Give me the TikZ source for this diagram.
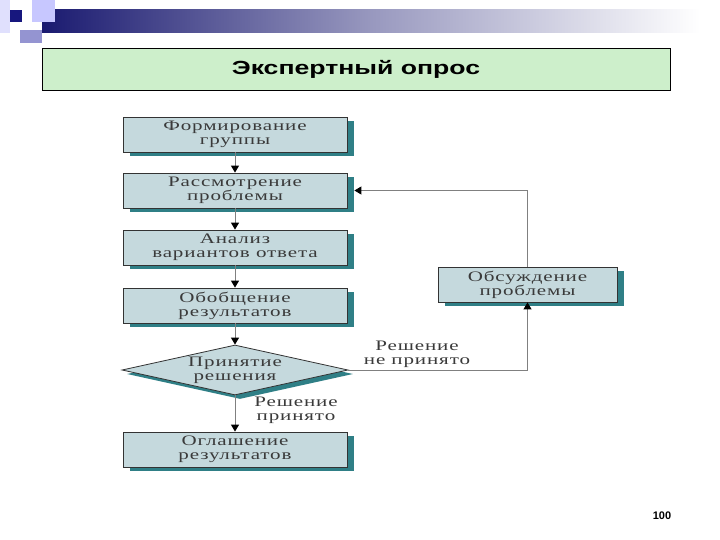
\documentclass[tikz,border=0pt]{standalone}
\usepackage{fontspec}
\setmainfont{Liberation Serif}
\newfontfamily\boxfont{Liberation Serif}[FakeStretch=1.45,LetterSpace=6]
\newfontfamily\titlefont{Liberation Sans}[FakeStretch=1.4]
\newfontfamily\numfont{Liberation Sans}
\usetikzlibrary{shapes.geometric,arrows.meta,calc,shadows}
\definecolor{boxfill}{HTML}{C5D9DD}
\definecolor{shadowc}{HTML}{2F7F86}
\definecolor{txtc}{HTML}{3A3A3A}
\definecolor{linec}{HTML}{808080}
\definecolor{titlefill}{HTML}{CDEFCB}
\definecolor{navy}{HTML}{1A1A70}
\tikzset{
  stepbox/.style={rectangle, minimum width=224pt, minimum height=35pt, inner sep=0pt,
    fill=boxfill, draw=black!80, line width=0.8pt, align=center, text=txtc,
    font=\boxfont\fontsize{14.5}{14}\selectfont,
    drop shadow={shadow xshift=7pt, shadow yshift=-4pt, fill=shadowc, opacity=1}},
  decide/.style={diamond, minimum width=226pt, minimum height=50pt, inner sep=0pt,
    fill=boxfill, draw=black!80, line width=0.8pt,
    drop shadow={shadow xshift=5pt, shadow yshift=-4pt, fill=shadowc, opacity=1}},
  btext/.style={align=center, text=txtc, font=\boxfont\fontsize{14.5}{14}\selectfont, inner sep=0pt},
  arr/.style={draw=linec, line width=1pt, -{Triangle[width=8pt,length=7pt,color=black]}}
}
\begin{document}
\begin{tikzpicture}[x=1pt,y=-1pt]
\useasboundingbox (0,0) rectangle (720,540);
\fill[white] (0,0) rectangle (720,540);
% decoration
\fill[black!6!blue!12] (0,0) rectangle (10,33);
\shade[left color=navy, right color=white, middle color=navy!45!white] (42,10) rectangle (700,33);
\fill[blue!22!white] (32,0) rectangle (55,22);
\fill[blue!40!gray!60] (20,30) rectangle (42,43);
\fill[navy!90!blue] (10,10) rectangle (22,22);
% title
\node[draw=black, line width=0.8pt, fill=titlefill, minimum width=628pt, minimum height=42pt,
  font=\titlefont\bfseries\fontsize{19}{19}\selectfont] (title) at (356,69) {Экспертный опрос};
% boxes
\node[stepbox] (b1) at (235,134.5) {Формирование\\группы};
\node[stepbox] (b2) at (235,190.5) {Рассмотрение\\проблемы};
\node[stepbox] (b3) at (235,247.5) {Анализ\\вариантов ответа};
\node[stepbox] (b4) at (235,305.5) {Обобщение\\результатов};
\node[decide] (d) at (235,370) {};
\node[btext] (dt) at (235,370) {Принятие\\решения};
\node[stepbox] (b5) at (235,449.5) {Оглашение\\результатов};
\node[stepbox, minimum width=179pt] (r) at (527.5,284.5) {Обсуждение\\проблемы};
% connectors
\draw[arr] (b1.south) -- (b2.north);
\draw[arr] (b2.south) -- (b3.north);
\draw[arr] (b3.south) -- (b4.north);
\draw[arr] (b4.south) -- (d.north);
\draw[arr] (d.south) -- (b5.north);
\draw[arr] (d.east) -| (r.south);
\draw[arr] (r.north) |- ([xshift=7pt]b2.east);
% labels
\node[btext] (l1) at (417,354) {Решение\\не принято};
\node[btext] (l2) at (296,410) {Решение\\принято};
\node[font=\numfont\bfseries\fontsize{11}{11}\selectfont] (num) at (662,516) {100};
\end{tikzpicture}
\end{document}
